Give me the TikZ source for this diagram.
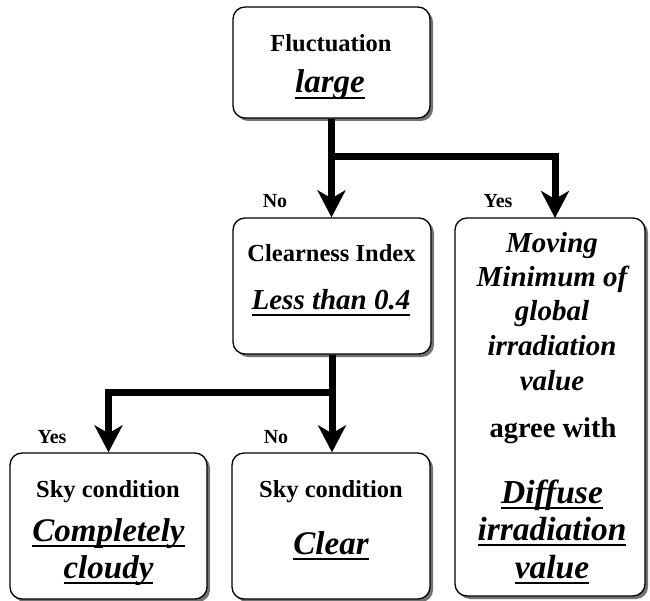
\documentclass[tikz,border=0pt]{standalone}
\usepackage{fontspec}
\setmainfont{Liberation Serif}
\usetikzlibrary{arrows.meta,shadows}
\newcommand\myul[1]{\setbox0\hbox{#1}\rlap{\rule[-0.19em]{\wd0}{0.065em}}\box0}
\begin{document}
\begin{tikzpicture}[x=1pt,y=-1pt,
  box/.style={draw=black, line width=1.3pt, rounded corners=12pt, fill=white,
    drop shadow={shadow xshift=3pt, shadow yshift=-3pt, fill=black!55, opacity=1},
    inner sep=0pt, anchor=center},
  conn/.style={line width=7pt, line join=miter, -{Stealth[length=27pt,width=28pt,inset=8pt]}},
  bt/.style={font=\bfseries\fontsize{24.5pt}{29pt}\selectfont, anchor=base, inner sep=0pt},
  lbl/.style={font=\bfseries\fontsize{20pt}{24pt}\selectfont, anchor=base, inner sep=0pt},
  it/.style={font=\bfseries\itshape\fontsize{#1}{#1}\selectfont, anchor=base, inner sep=0pt},
  it/.default=33pt
]
\useasboundingbox (0,0) rectangle (650,601);

% boxes
\node[box, minimum width=197pt, minimum height=111pt] (top) at (331.5,62.5) {};
\node[box, minimum width=198pt, minimum height=136pt] (mid) at (332,286) {};
\node[box, minimum width=190pt, minimum height=378pt] (rgt) at (550,407) {};
\node[box, minimum width=197pt, minimum height=146pt] (bl) at (108.5,526) {};
\node[box, minimum width=198pt, minimum height=146pt] (br) at (331,526) {};

% texts
\node[bt] (t1) at (331,52) {Fluctuation};
\node[it] (t2) at (330,93) {\myul{large}};

\node[bt] (m1) at (331.5,262) {Clearness Index};
\node[it=29pt] (m2) at (331,310) {\myul{Less than 0.4}};

\node[bt] (b1) at (108,497) {Sky condition};
\node[it] (b2) at (108.5,541) {\myul{Completely}};
\node[it] (b3) at (108.5,578) {\myul{cloudy}};

\node[bt] (c1) at (331,497) {Sky condition};
\node[it] (c2) at (331,554) {\myul{Clear}};

\node[it=29pt] (r1) at (552,253) {Moving};
\node[it=29pt] (r2) at (552,287) {Minimum of};
\node[it=29pt] (r3) at (552,320) {global};
\node[it=29pt] (r4) at (552,355) {irradiation};
\node[it=29pt] (r5) at (552,390) {value};
\node[bt, font=\bfseries\fontsize{28.5pt}{30pt}\selectfont] (r6) at (553,437) {agree with};
\node[it=33.5pt] (r7) at (552,503) {\myul{Diffuse}};
\node[it=33.5pt] (r8) at (552,540) {\myul{irradiation}};
\node[it=33.5pt] (r9) at (552,578) {\myul{value}};

% labels
\node[lbl] (l1) at (275,208) {No};
\node[lbl] (l2) at (498,208) {Yes};
\node[lbl] (l3) at (52,443) {Yes};
\node[lbl] (l4) at (276,443) {No};

% connectors
\coordinate (j1) at (331.5,157);
\coordinate (rin) at (555,218);
\coordinate (j2) at (332,392);
\draw[conn] (top.south) -- (top.south |- mid.north);
\draw[conn] (j1) -| (rin);
\draw[conn] (mid.south) -- (mid.south |- br.north);
\draw[conn] (j2) -| (bl.north);
\end{tikzpicture}
\end{document}
